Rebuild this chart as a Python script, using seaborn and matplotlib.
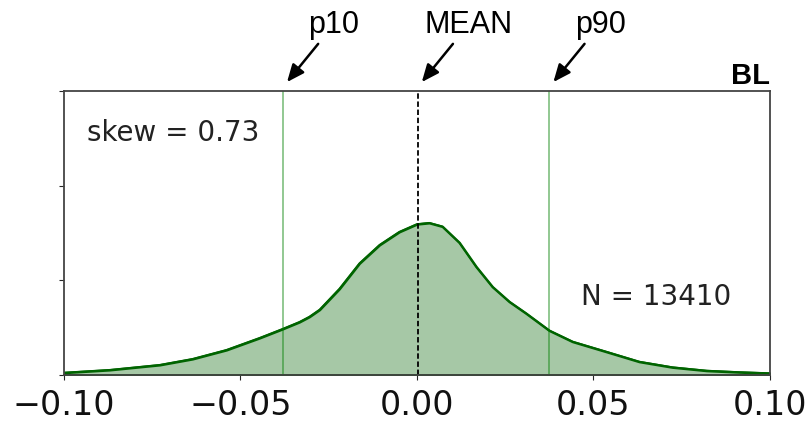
import numpy as np
import pandas as pd
import seaborn as sns
import matplotlib.pyplot as plt
from matplotlib.colors import to_rgba

sns.set_style('ticks')
plt.rcParams['font.family'] = ['DejaVu Sans']

# density curve
x_vals = [-0.100, -0.0871, -0.0729, -0.0636, -0.0540, -0.0446, -0.0381, -0.0333,
          -0.0305, -0.0276, -0.0220, -0.0163, -0.0106, -0.0050, 0.0000, 0.0035,
          0.0072, 0.0120, 0.0168, 0.0214, 0.0262, 0.0309, 0.0375, 0.0441,
          0.0536, 0.0630, 0.0724, 0.0821, 0.0915, 0.100]
density = [0.24, 0.53, 1.06, 1.69, 2.64, 3.91, 4.86, 5.60,
           6.15, 6.90, 9.10, 11.80, 13.75, 15.13, 15.95, 16.08,
           15.70, 14.00, 11.44, 9.32, 7.74, 6.52, 4.70, 3.52,
           2.46, 1.40, 0.81, 0.45, 0.29, 0.18]

p10 = -0.038
p90 = 0.0375
mean = 0.0002
skew = 0.73
n_obs = 13410
label = 'BL'

df = pd.DataFrame({'x': x_vals, 'density': density})

fig = plt.figure(figsize=(8.11, 4.24), dpi=100)
ax = fig.add_axes([0.079, 0.116, 0.870, 0.669])

ax.fill_between(df['x'], df['density'], facecolor=to_rgba('darkgreen', 0.35),
                edgecolor='darkgreen', linewidth=1.8)
sns.lineplot(data=df, x='x', y='density', color='darkgreen', linewidth=1.2, ax=ax)

ax.axvline(p10, color='green', alpha=0.5, linewidth=1.2)
ax.axvline(p90, color='green', alpha=0.5, linewidth=1.2)
ax.axvline(mean, color='black', linestyle=(0, (3, 1.5)), linewidth=1.3)

ax.set_xlim(-0.1, 0.1)
ax.set_ylim(0, 30)
ax.set_xticks([-0.10, -0.05, 0.00, 0.05, 0.10])
ax.set_xticklabels(['−0.10', '−0.05', '0.00', '0.05', '0.10'])
ax.set_yticks([0, 10, 20, 30])
ax.set_yticklabels([])
ax.tick_params(axis='x', labelsize=24, pad=7, labelcolor='#111111')
ax.set_xlabel('')
ax.set_ylabel('')
for s in ax.spines.values():
    s.set_color('#444444')
    s.set_linewidth(1.3)

ax.text(0.033, 0.852, f'skew = {skew}', transform=ax.transAxes, fontsize=20,
        ha='left', va='center', color='#222222')
ax.text(0.839, 0.275, f'N = {n_obs}', transform=ax.transAxes, fontsize=20,
        ha='center', va='center', color='#222222')
ax.set_title(label, loc='right', fontsize=21, fontweight='bold',
             family='Liberation Sans', color='black', pad=5)

arrow = dict(arrowstyle='-|>,head_length=0.7,head_width=0.3', color='black',
             lw=1.8, mutation_scale=15, shrinkA=1, shrinkB=0)
for name, xv in [('p10', p10), ('MEAN', mean), ('p90', p90)]:
    ax.annotate(name, xy=(xv + 0.0012, 1.032), xycoords=('data', 'axes fraction'),
                xytext=(xv + 0.0145, 1.235), textcoords=('data', 'axes fraction'),
                ha='center', va='center', fontsize=22, family='Liberation Sans',
                color='black', arrowprops=arrow)

fig.savefig('out.png', dpi=100)
